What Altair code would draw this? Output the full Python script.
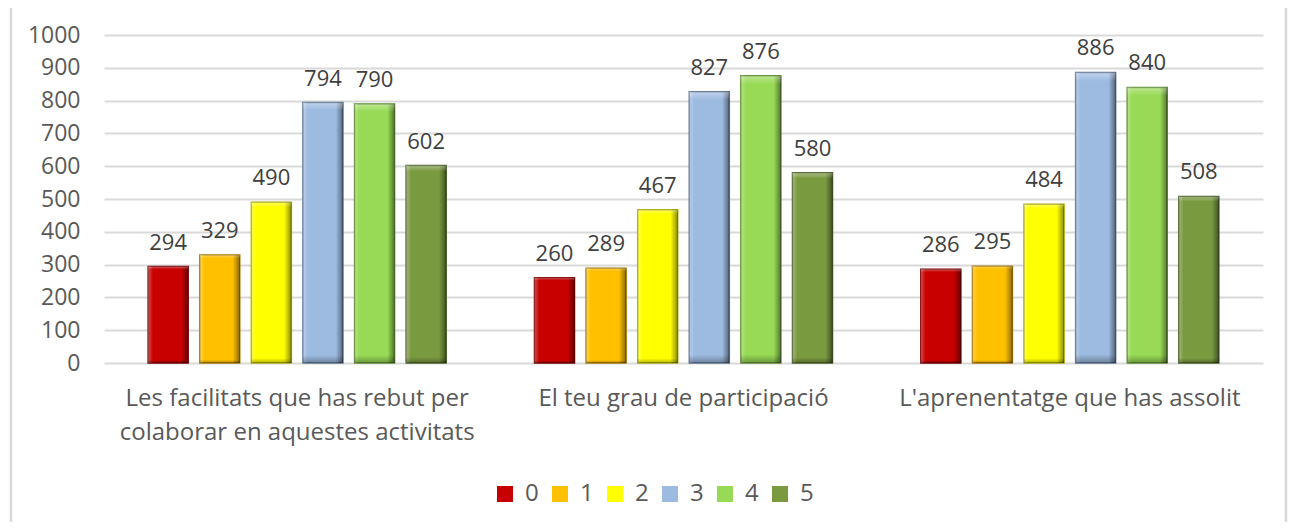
import altair as alt
import pandas as pd

categories = [
    "Les facilitats que has rebut per|colaborar en aquestes activitats",
    "El teu grau de participació",
    "L'aprenentatge que has assolit",
]
series = ["0", "1", "2", "3", "4", "5"]
v0 = [294, 260, 286]
v1 = [329, 289, 295]
v2 = [490, 467, 484]
v3 = [794, 827, 886]
v4 = [790, 876, 840]
v5 = [602, 580, 508]
colors = ["#C80000", "#FFC000", "#FFFF00", "#9DBBE1", "#98DA55", "#7A9A3F"]
dark = ["#7A0000", "#A87A00", "#A8A800", "#5C7391", "#5E8A32", "#4A6026"]

rows = []
for s, vals in zip(series, [v0, v1, v2, v3, v4, v5]):
    for c, v in zip(categories, vals):
        rows.append({"cat": c, "series": s, "value": v})
df = pd.DataFrame(rows)

FONT = "Open Sans"

x = alt.X("cat:N", sort=categories, title=None,
          scale=alt.Scale(paddingInner=0, paddingOuter=0),
          axis=alt.Axis(labelAngle=0, labelFontSize=24, labelColor="#595959",
                        labelFont=FONT, labelPadding=23, ticks=False, domain=False,
                        labelLineHeight=34, labelLimit=420,
                        labelExpr="split(datum.label, '|')"))
xo = alt.XOffset("series:N", sort=series,
                 scale=alt.Scale(paddingInner=0.225, paddingOuter=0.856))
y = alt.Y("value:Q", title=None,
          scale=alt.Scale(domain=[0, 1000], nice=False),
          axis=alt.Axis(values=list(range(0, 1001, 100)), format="d",
                        labelFontSize=23, labelColor="#595959", labelFont=FONT,
                        ticks=False, domain=False, labelPadding=24,
                        gridColor="#D9D9D9", gridWidth=2))

bars = alt.Chart(df).mark_bar(strokeWidth=1.5).encode(
    x=x, xOffset=xo, y=y,
    color=alt.Color("series:N", sort=series,
                    scale=alt.Scale(domain=series, range=colors),
                    legend=alt.Legend(title=None, orient="none", direction="horizontal",
                                      legendX=389, legendY=447, labelFontSize=24,
                                      labelFont=FONT, labelColor="#595959",
                                      symbolType="square", symbolSize=256,
                                      symbolStrokeWidth=0, columnPadding=9,
                                      labelOffset=8)),
    stroke=alt.Stroke("series:N", sort=series,
                      scale=alt.Scale(domain=series, range=dark), legend=None),
)

bevel_h = alt.Chart(df).mark_bar(
    color=alt.Gradient(
        gradient="linear", x1=0, x2=1, y1=0, y2=0,
        stops=[
            alt.GradientStop(offset=0, color="rgba(255,255,255,0.3)"),
            alt.GradientStop(offset=0.12, color="rgba(255,255,255,0)"),
            alt.GradientStop(offset=0.82, color="rgba(0,0,0,0)"),
            alt.GradientStop(offset=1, color="rgba(0,0,0,0.45)"),
        ],
    )
).encode(x=x, xOffset=xo, y=y)

bevel_v = alt.Chart(df).mark_bar(
    color=alt.Gradient(
        gradient="linear", x1=0, x2=0, y1=0, y2=1,
        stops=[
            alt.GradientStop(offset=0, color="rgba(255,255,255,0.35)"),
            alt.GradientStop(offset=0.03, color="rgba(255,255,255,0)"),
            alt.GradientStop(offset=0.97, color="rgba(0,0,0,0)"),
            alt.GradientStop(offset=1, color="rgba(0,0,0,0.3)"),
        ],
    )
).encode(x=x, xOffset=xo, y=y)

labels = alt.Chart(df).mark_text(dy=-12, fontSize=22, font=FONT, color="#404040",
                                 baseline="bottom").encode(
    x=x, xOffset=xo, y=y, text="value:Q")

border = alt.Chart(alt.Data(values=[{"a": 1}])).mark_rect(
    fill=None, stroke="#D9D9D9", strokeWidth=2.5, clip=False).encode(
    x=alt.value(-93), x2=alt.value(1182), y=alt.value(-31), y2=alt.value(600))

chart = alt.layer(border, bars, bevel_h, bevel_v, labels).properties(
    width=1159, height=328,
    padding={"left": 96, "top": 27, "right": 25, "bottom": 159},
    autosize=alt.AutoSizeParams(type="none"),
).configure_view(stroke=None)

chart.save("out.html", embed_options={"renderer": "svg", "actions": False})
